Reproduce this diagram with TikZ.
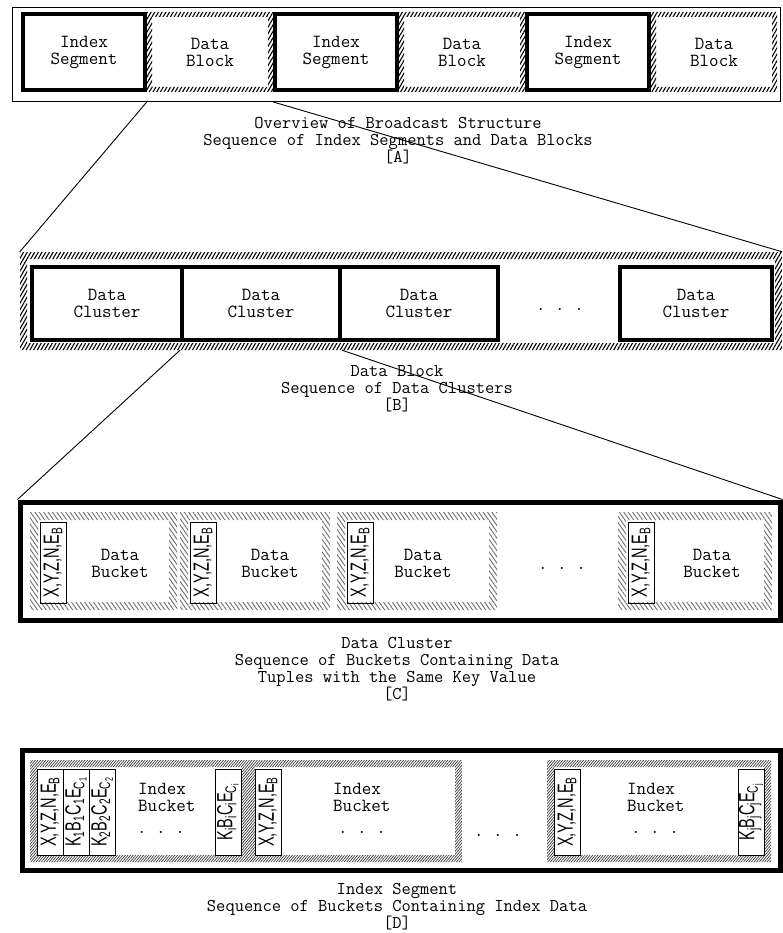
\documentclass[tikz,border=0pt]{standalone}
\usepackage{fontspec}
\usepackage{graphicx}
\usepackage{tikz}
\usetikzlibrary{patterns.meta,positioning,calc}
\newfontfamily\lblsans{Liberation Sans}
\definecolor{hatchgray}{HTML}{6E6E6E}
\definecolor{hatchdark}{HTML}{3A3A3A}
\newcommand{\narrowtxt}[1]{\scalebox{0.66}[1]{#1}}
\tikzset{
  mono/.style={font=\fontsize{18.5}{17}\selectfont\ttfamily,align=center,inner sep=0pt},
  capt/.style={font=\fontsize{18}{17}\selectfont\ttfamily,align=center,inner sep=0pt},
  frame/.style={draw,line width=#1,inner sep=0pt},
  hatched/.style n args={3}{fill=white,inner sep=0pt,
    path picture={\fill[pattern={#2},pattern color=#1,even odd rule]
      (path picture bounding box.south west) rectangle (path picture bounding box.north east)
      ([shift={(#3,#3)}]path picture bounding box.south west) rectangle ([shift={(-#3,-#3)}]path picture bounding box.north east);}},
  segbox/.style={frame=4pt,mono,minimum width=122pt,minimum height=76pt},
  blkbox/.style={hatched={black}{Lines[angle=60,distance=3.2pt,line width=1.1pt]}{5pt},mono,minimum width=126pt,minimum height=80pt},
  clubox/.style={frame=4pt,mono,minimum height=73pt},
  dbucket/.style={hatched={hatchgray}{Lines[angle=-55,distance=3.6pt,line width=0.9pt]}{8pt},minimum height=98pt},
  ibucket/.style={hatched={hatchdark}{Lines[angle=50,distance=2pt,line width=0.7pt]}{7pt},minimum height=102pt},
  tagbox/.style={draw,line width=0.9pt,rotate=90,inner sep=0pt,minimum height=26pt,font=\lblsans\fontsize{22}{22}\selectfont},
  zoomline/.style={line width=0.9pt},
}

\begin{document}
\begin{tikzpicture}[x=1pt,y=-1pt]
  \useasboundingbox (0,0) rectangle (782,933);
  % [A] broadcast overview
  \node[frame=0.9pt,minimum width=768pt,minimum height=94pt] (ovw) at (396.5,54.5) {};
  \foreach \k in {1,2,3} {
    \node[segbox] (seg\k) at ({84+252*(\k-1)},52) {Index\\Segment};
    \node[blkbox] (blk\k) at ({210+252*(\k-1)},52) {Data\\Block};
  }
  \node[capt] (capA) at (398,141) {Overview of Broadcast Structure\\Sequence of Index Segments and Data Blocks\\{[A]}};

  % [B] data block
  \node[hatched={black}{Lines[angle=60,distance=3.2pt,line width=1.1pt]}{7pt},minimum width=762pt,minimum height=98pt] (dblk) at (401,301) {};
  \node[clubox,minimum width=150pt] (cl1) at (107,303.5) {Data\\Cluster};
  \node[clubox,minimum width=158pt] (cl2) at (261,303.5) {Data\\Cluster};
  \node[clubox,minimum width=158pt] (cl3) at (419,303.5) {Data\\Cluster};
  \node[mono] (dotsB) at (560,309) {.\ .\ .};
  \node[clubox,minimum width=152pt] (cl4) at (696,303.5) {Data\\Cluster};
  \node[capt] (capB) at (397,389) {Data Block\\Sequence of Data Clusters\\{[B]}};

  % [C] data cluster
  \node[frame=5pt,minimum width=760pt,minimum height=118pt] (clus) at (400,561) {};
  \node[dbucket,minimum width=147pt] (bk1) at (103.5,561) {};
  \node[dbucket,minimum width=150pt] (bk2) at (255,561) {};
  \node[dbucket,minimum width=160pt] (bk3) at (417,561) {};
  \node[dbucket,minimum width=154pt] (bk4) at (695,561) {};
  \node[tagbox,minimum width=81pt] (cx1) at (53,562.5) {\narrowtxt{X,Y,Z,N,E\textsubscript{B}}};
  \node[tagbox,minimum width=81pt] (cx2) at (203,562.5) {\narrowtxt{X,Y,Z,N,E\textsubscript{B}}};
  \node[tagbox,minimum width=81pt] (cx3) at (360,562.5) {\narrowtxt{X,Y,Z,N,E\textsubscript{B}}};
  \node[tagbox,minimum width=81pt] (cx4) at (641,562.5) {\narrowtxt{X,Y,Z,N,E\textsubscript{B}}};
  \node[mono] (ct1) at (120,563) {Data\\Bucket};
  \node[mono] (ct2) at (270,563) {Data\\Bucket};
  \node[mono] (ct3) at (423,563) {Data\\Bucket};
  \node[mono] (dotsC) at (562,568) {.\ .\ .};
  \node[mono] (ct4) at (712,563) {Data\\Bucket};
  \node[capt] (capC) at (397,669) {Data Cluster\\Sequence of Buckets Containing Data\\Tuples with the Same Key Value\\{[C]}};

  % [D] index segment
  \node[frame=5pt,minimum width=758pt,minimum height=120pt] (iseg) at (401,810) {};
  \node[ibucket,minimum width=218pt] (ib1) at (139,811) {};
  \node[ibucket,minimum width=214pt] (ib2) at (355,811) {};
  \node[ibucket,minimum width=224pt] (ib3) at (659,811) {};
  \node[tagbox,minimum width=86pt] (ix1) at (50,812) {\narrowtxt{X,Y,Z,N,E\textsubscript{B}}};
  \node[tagbox,minimum width=86pt] (ik1) at (76,812) {\narrowtxt{K\textsubscript{1}B\textsubscript{1}C\textsubscript{1}E\textsubscript{C\textsubscript{1}}}};
  \node[tagbox,minimum width=86pt] (ik2) at (102,812) {\narrowtxt{K\textsubscript{2}B\textsubscript{2}C\textsubscript{2}E\textsubscript{C\textsubscript{2}}}};
  \node[tagbox,minimum width=86pt] (iki) at (228,812) {\narrowtxt{K\textsubscript{i}B\textsubscript{i}C\textsubscript{i}E\textsubscript{C\textsubscript{i}}}};
  \node[tagbox,minimum width=86pt] (ix2) at (268,812) {\narrowtxt{X,Y,Z,N,E\textsubscript{B}}};
  \node[tagbox,minimum width=86pt] (ix3) at (567,812) {\narrowtxt{X,Y,Z,N,E\textsubscript{B}}};
  \node[tagbox,minimum width=86pt] (ikj) at (751,812) {\narrowtxt{K\textsubscript{j}B\textsubscript{j}C\textsubscript{j}E\textsubscript{C\textsubscript{j}}}};
  \node[mono,align=left,anchor=west] (it1) at (138,797) {Index\\Bucket};
  \node[mono,align=left,anchor=west] (it2) at (333,797) {Index\\Bucket};
  \node[mono,align=left,anchor=west] (it3) at (627,797) {Index\\Bucket};
  \node[mono] (id1) at (161,832) {.\ .\ .};
  \node[mono] (id2) at (362,832) {.\ .\ .};
  \node[mono] (dotsD) at (498,835) {.\ .\ .};
  \node[mono] (id3) at (655,832) {.\ .\ .};
  \node[capt] (capD) at (397,907) {Index Segment\\Sequence of Buckets Containing Index Data\\{[D]}};

  % zoom lines
  \draw[zoomline] (blk1.south west |- ovw.south) -- (dblk.north west);
  \draw[zoomline] (blk1.south east |- ovw.south) -- (dblk.north east);
  \draw[zoomline] (cl2.south west |- dblk.south) -- (clus.north west);
  \draw[zoomline] (cl2.south east |- dblk.south) -- (clus.north east);
\end{tikzpicture}
\end{document}
